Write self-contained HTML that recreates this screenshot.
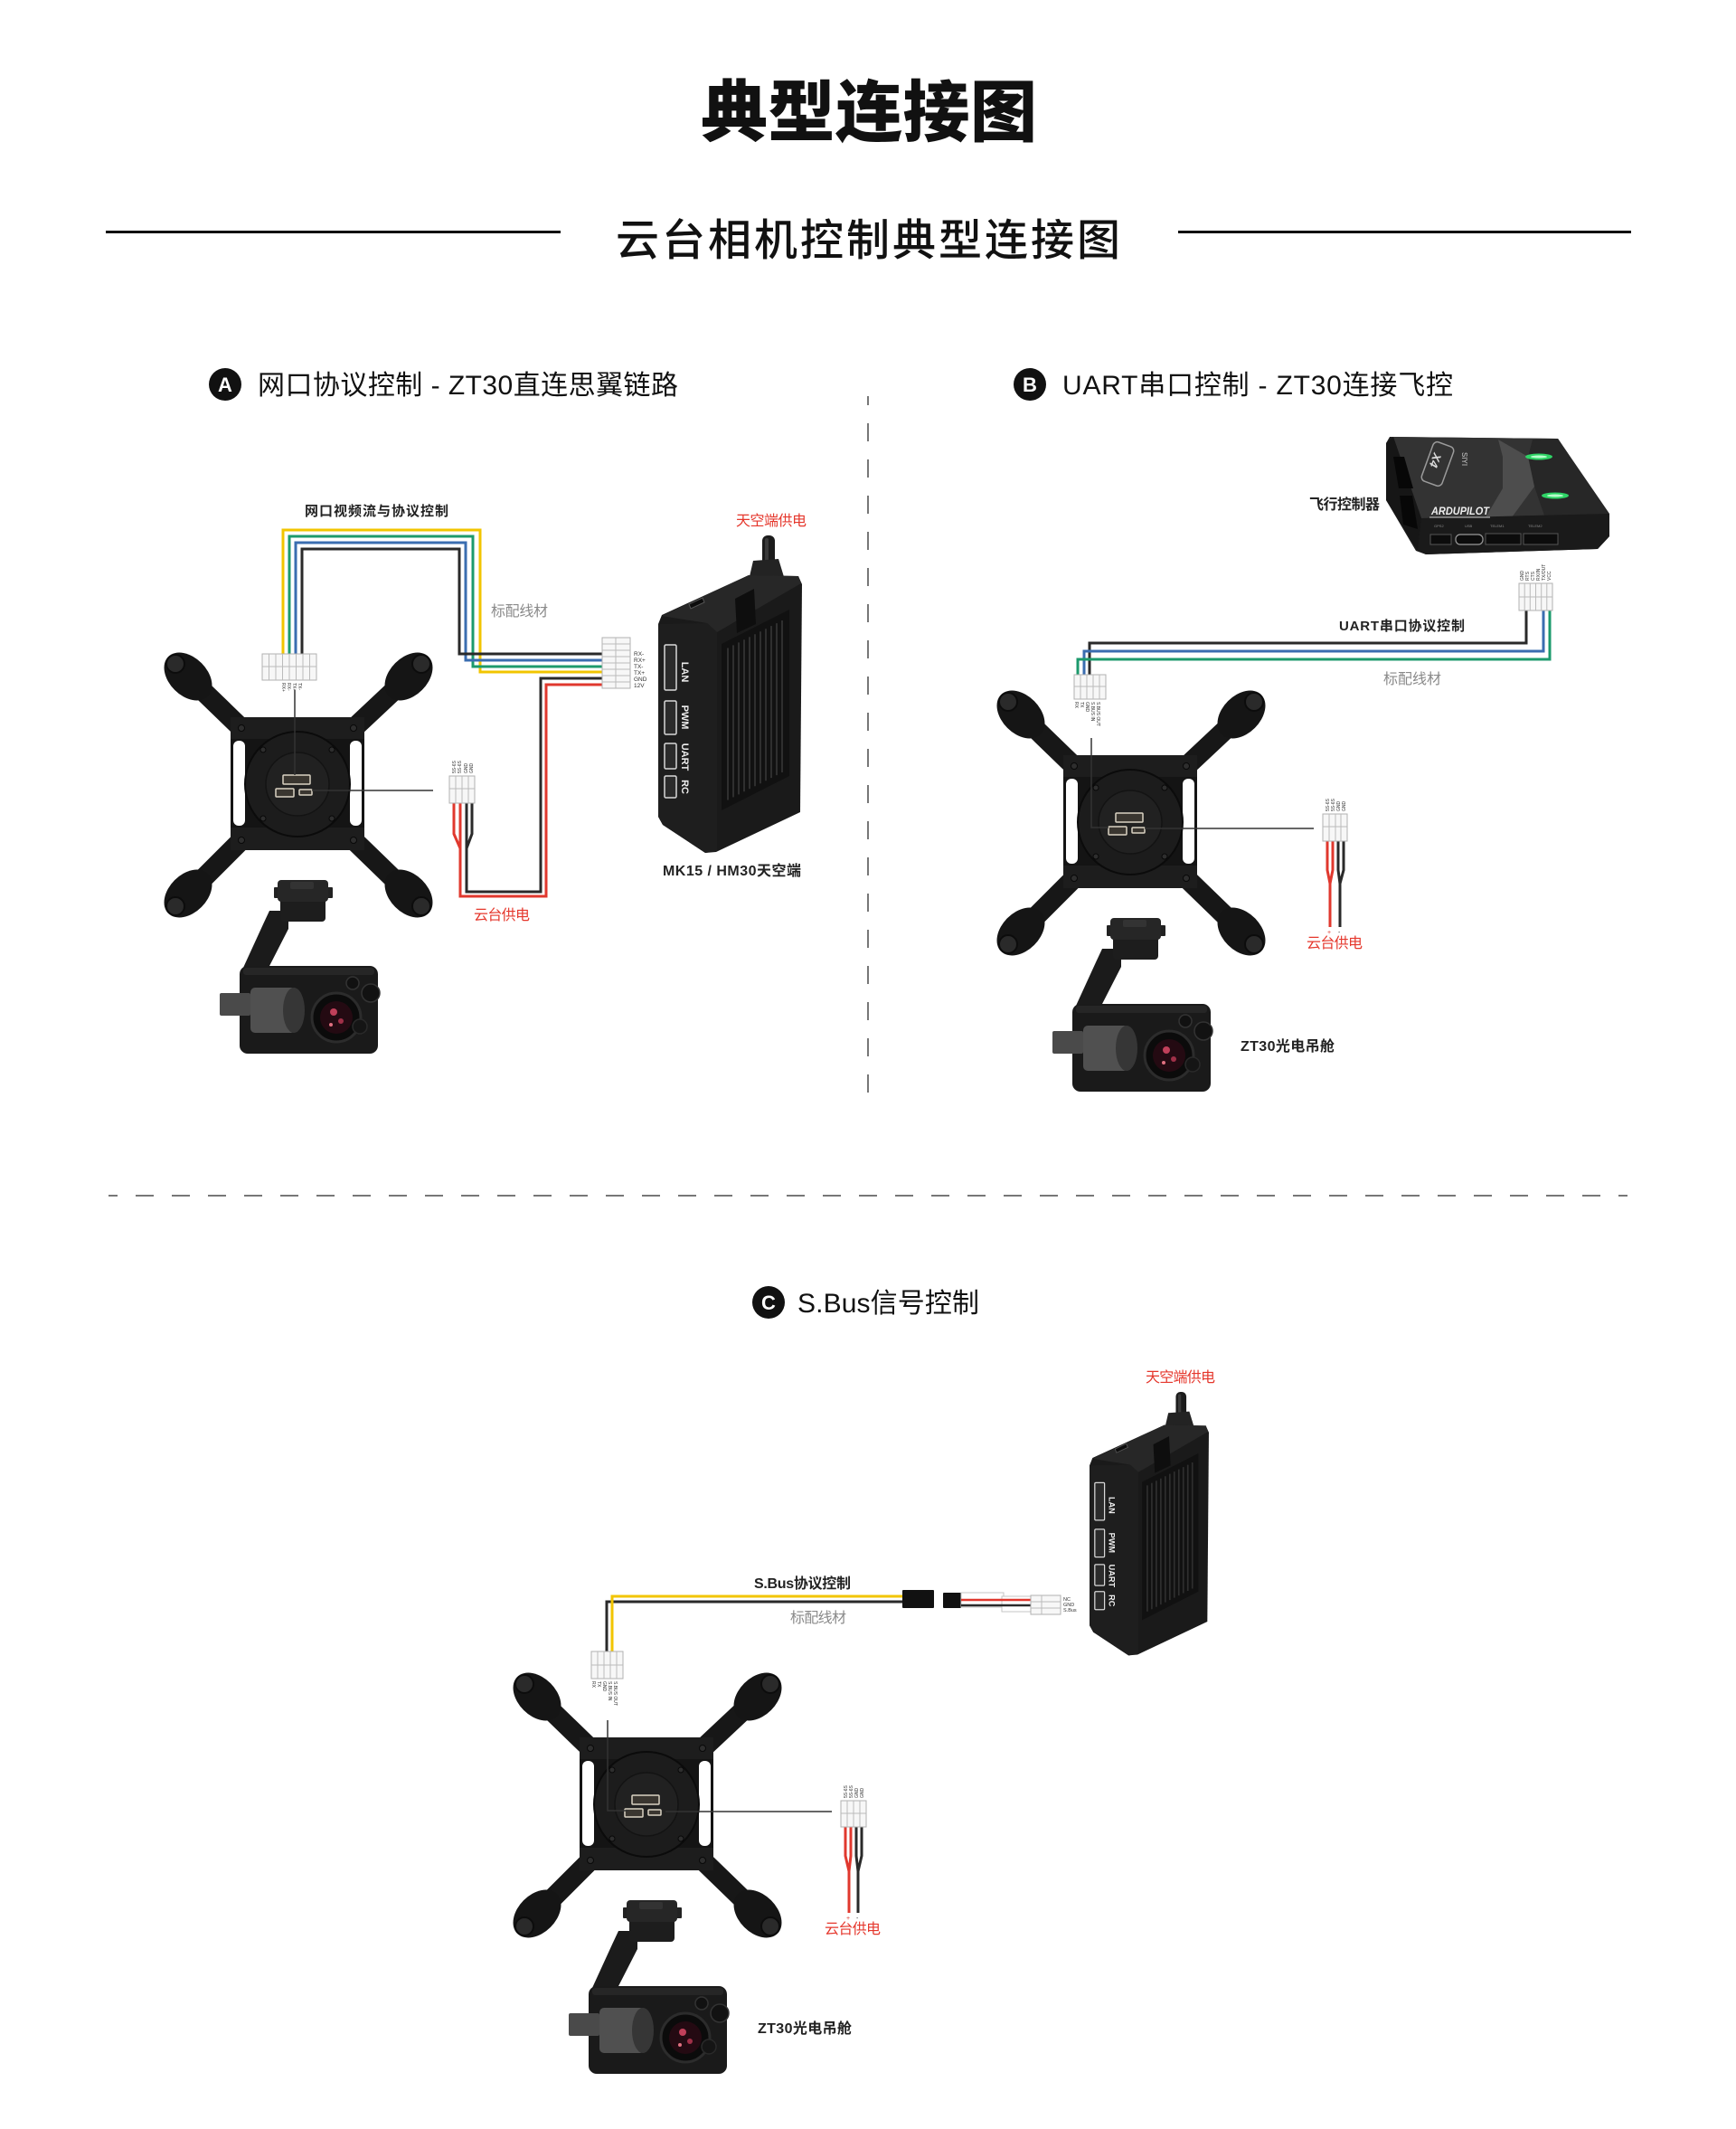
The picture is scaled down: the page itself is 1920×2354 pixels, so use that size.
<!DOCTYPE html>
<html><head><meta charset="utf-8">
<style>
html,body{margin:0;padding:0;background:#fff;}
svg{display:block;}
text{font-family:"Liberation Sans","Noto Sans CJK SC",sans-serif;}
</style></head><body>
<svg width="1920" height="2354" viewBox="0 0 1920 2354" xmlns="http://www.w3.org/2000/svg">
<defs>
<g id="plate">
 <g stroke="#171717" stroke-width="22" stroke-linecap="round">
  <line x1="-55" y1="-55" x2="-118" y2="-116"/>
  <line x1="55" y1="-55" x2="120" y2="-116"/>
  <line x1="-55" y1="55" x2="-118" y2="118"/>
  <line x1="55" y1="55" x2="120" y2="118"/>
 </g>
 <ellipse cx="-121" cy="-119" rx="31" ry="21" transform="rotate(45 -121 -119)" fill="#151515"/>
 <ellipse cx="123" cy="-119" rx="31" ry="21" transform="rotate(-45 123 -119)" fill="#151515"/>
 <ellipse cx="-121" cy="121" rx="31" ry="21" transform="rotate(-45 -121 121)" fill="#151515"/>
 <ellipse cx="123" cy="121" rx="31" ry="21" transform="rotate(45 123 121)" fill="#151515"/>
 <g fill="#2a2a2a" stroke="#0c0c0c" stroke-width="2">
  <circle cx="-135" cy="-133" r="10"/>
  <circle cx="137" cy="-133" r="10"/>
  <circle cx="-135" cy="135" r="10"/>
  <circle cx="137" cy="135" r="10"/>
 </g>
 <rect x="-74" y="-74" width="148" height="147" rx="3" fill="#141414"/>
 <rect x="-74" y="-74" width="148" height="24" fill="#1d1d1d"/>
 <rect x="-74" y="48" width="148" height="25" fill="#1d1d1d"/>
 <rect x="-71" y="-48" width="13" height="94" rx="6" fill="#fff"/>
 <rect x="58" y="-48" width="13" height="94" rx="6" fill="#fff"/>
 <circle cx="0" cy="0" r="58" fill="#1c1c1c" stroke="#0b0b0b" stroke-width="2"/>
 <circle cx="0" cy="0" r="35" fill="#212121" stroke="#131313" stroke-width="1.5"/>
 <g fill="#2e2e2e" stroke="#080808" stroke-width="1">
  <circle cx="-62" cy="-62" r="3.5"/><circle cx="62" cy="-62" r="3.5"/>
  <circle cx="-62" cy="62" r="3.5"/><circle cx="62" cy="62" r="3.5"/>
  <circle cx="-38" cy="-38" r="3"/><circle cx="38" cy="-38" r="3"/>
  <circle cx="-38" cy="38" r="3"/><circle cx="38" cy="38" r="3"/>
 </g>
 <g fill="#3a3630" stroke="#d9d2c2" stroke-width="1.5">
  <rect x="-16" y="-10" width="30" height="10" rx="1"/>
  <rect x="-24" y="5" width="20" height="9" rx="1"/>
  <rect x="2" y="6" width="14" height="6" rx="1"/>
 </g>
 <!-- camera -->
 <polygon points="-31,140 -10,140 -10,160 -32,203 -60,203 -38,155" fill="#1b1b1b"/>
 <rect x="-19" y="124" width="50" height="28" rx="4" fill="#1d1d1d"/>
 <rect x="-26" y="114" width="7" height="12" rx="1" fill="#222"/>
 <rect x="32" y="114" width="7" height="12" rx="1" fill="#222"/>
 <rect x="-22" y="106" width="56" height="24" rx="4" fill="#262626"/>
 <rect x="-8" y="108" width="26" height="8" rx="2" fill="#333"/>
 <rect x="-64" y="201" width="153" height="97" rx="9" fill="#1a1a1a"/>
 <rect x="-60" y="203" width="145" height="8" rx="3" fill="#262626"/>
 <rect x="-86" y="231" width="34" height="25" rx="2" fill="#4a4a4a"/>
 <rect x="-52" y="225" width="50" height="50" rx="5" fill="#505050"/>
 <ellipse cx="-4" cy="250" rx="12" ry="25" fill="#363636"/>
 <circle cx="43" cy="258" r="27" fill="#0b0b0b" stroke="#2c2c2c" stroke-width="3"/>
 <circle cx="43" cy="258" r="18" fill="#240a12"/>
 <circle cx="40" cy="252" r="4" fill="#c0405a"/>
 <circle cx="48" cy="262" r="3" fill="#a03048"/>
 <circle cx="37" cy="266" r="2" fill="#e07080"/>
 <circle cx="61" cy="220" r="7" fill="#111" stroke="#333" stroke-width="1.5"/>
 <circle cx="81" cy="231" r="10" fill="#121212" stroke="#333" stroke-width="1.5"/>
 <circle cx="69" cy="268" r="8" fill="#151515" stroke="#2a2a2a" stroke-width="1.5"/>
</g>
</defs>

<!-- Titles -->
<text x="775" y="150" font-size="74" font-weight="900" fill="#111" textLength="372" lengthAdjust="spacing">典型连接图</text>
<rect x="117" y="255" width="503" height="3" fill="#111"/>
<rect x="1303" y="255" width="501" height="3" fill="#111"/>
<text x="681" y="282" font-size="48" font-weight="500" fill="#111" textLength="558" lengthAdjust="spacing">云台相机控制典型连接图</text>

<!-- Headings -->
<circle cx="249" cy="425" r="18" fill="#111"/>
<text x="249" y="433" font-size="22" font-weight="bold" fill="#fff" text-anchor="middle">A</text>
<text x="285" y="436" font-size="30" fill="#111" textLength="465" lengthAdjust="spacing">网口协议控制 - ZT30直连思翼链路</text>
<circle cx="1139" cy="425" r="18" fill="#111"/>
<text x="1139" y="433" font-size="22" font-weight="bold" fill="#fff" text-anchor="middle">B</text>
<text x="1175" y="436" font-size="30" fill="#111" textLength="432" lengthAdjust="spacing">UART串口控制 - ZT30连接飞控</text>
<circle cx="850" cy="1440" r="18" fill="#111"/>
<text x="850" y="1448" font-size="22" font-weight="bold" fill="#fff" text-anchor="middle">C</text>
<text x="882" y="1451" font-size="30" fill="#111" textLength="201" lengthAdjust="spacing">S.Bus信号控制</text>

<!-- Dashed separators -->
<line x1="960" y1="438" x2="960" y2="448" stroke="#777" stroke-width="2"/>
<line x1="960" y1="468" x2="960" y2="1214" stroke="#777" stroke-width="2" stroke-dasharray="20 20"/>
<line x1="120" y1="1322" x2="1800" y2="1322" stroke="#777" stroke-width="2" stroke-dasharray="20 20" stroke-dashoffset="10"/>

<!-- ================= SECTION A ================= -->
<use href="#plate" transform="translate(329,867)"/>
<!-- MK15 box A -->
<g>
<rect x="843" y="592" width="14" height="36" rx="6" fill="#1c1c1c"/>
<rect x="846" y="595" width="4" height="30" rx="2" fill="#3a3a3a"/>
<polygon points="833,620 861,618 868,641 827,646" fill="#232323"/>
<polygon points="728,690 732,680 828,636 883,637 887,646 885,898 792,942 780,943 733,912 728,903" fill="#1a1a1a"/>
<polygon points="732,681 828,636 883,637 886,645 793,699 782,689" fill="#272727"/>
<polygon points="728,690 782,689 793,699 793,941 780,943 733,912 728,903" fill="#1e1e1e"/>
<polygon points="813,662 834,651 836,690 815,700" fill="#0e0e0e"/>
<polygon points="762,668 777,661 779,666 764,673" fill="#0c0c0c" stroke="#555" stroke-width="1"/>
<polygon points="798,712 873,674 873,858 798,896" fill="#111"/>
<g stroke="#2f2f2f" stroke-width="2">
<line x1="805" y1="716.5" x2="805" y2="884.5"/><line x1="811" y1="713.4" x2="811" y2="881.4"/>
<line x1="817" y1="710.4" x2="817" y2="878.4"/><line x1="823" y1="707.3" x2="823" y2="875.3"/>
<line x1="829" y1="704.3" x2="829" y2="872.3"/><line x1="835" y1="701.2" x2="835" y2="869.2"/>
<line x1="841" y1="698.2" x2="841" y2="866.2"/><line x1="847" y1="695.2" x2="847" y2="863.2"/>
<line x1="853" y1="692.1" x2="853" y2="860.1"/><line x1="859" y1="689.1" x2="859" y2="857.1"/>
<line x1="865" y1="686" x2="865" y2="854"/>
</g>
<g fill="#2b2b2b" stroke="#d8d8d8" stroke-width="1.5">
<rect x="735" y="713" width="13" height="50" rx="1.5"/>
<rect x="735" y="775" width="13" height="37" rx="1.5"/>
<rect x="735" y="822" width="13" height="28" rx="1.5"/>
<rect x="735" y="858" width="13" height="24" rx="1.5"/>
</g>
<g font-size="11" font-weight="bold" fill="#eee" text-anchor="middle">
<text transform="translate(754,743) rotate(90)">LAN</text>
<text transform="translate(754,793) rotate(90)">PWM</text>
<text transform="translate(754,837) rotate(90)">UART</text>
<text transform="translate(754,870) rotate(90)">RC</text>
</g>
</g>

<!-- wires A -->
<g fill="none" stroke-width="3" stroke-linejoin="miter">
<polyline points="313,723 313,586 531,586 531,743 667,743" stroke="#f2c500"/>
<polyline points="320,723 320,593 523,593 523,737 667,737" stroke="#1c9a6c"/>
<polyline points="327,723 327,600 515,600 515,730 667,730" stroke="#3a6db0"/>
<polyline points="334,723 334,607 508,607 508,723 667,723" stroke="#2a2a2a"/>
<polyline points="667,750 598,750 598,986 516,986 516,938" stroke="#2a2a2a"/>
<polyline points="667,757 604,757 604,991 509,991 509,938" stroke="#e0382e"/>
<polyline points="502,888 502,922 509,938" stroke="#e0382e"/>
<polyline points="509,888 509,938" stroke="#e0382e"/>
<polyline points="522,888 522,922 516,938" stroke="#2a2a2a"/>
<polyline points="516,888 516,938" stroke="#2a2a2a"/>
</g>
<line x1="326" y1="763" x2="326" y2="857" stroke="#333" stroke-width="1.5"/>
<line x1="345" y1="874" x2="479" y2="874" stroke="#333" stroke-width="1.5"/>

<!-- connectors A -->
<rect x="290" y="723" width="60" height="29" fill="#f7f7f7" stroke="#b0b0b0" stroke-width="1"/>
<path d="M297.5 723v29M305 723v29M312.5 723v29M320 723v29M327.5 723v29M335 723v29M342.5 723v29M290 737h60" stroke="#bbb" stroke-width="1" fill="none"/>
<g font-size="5" fill="#333">
<text transform="translate(312,755) rotate(90)">RX+</text>
<text transform="translate(318,755) rotate(90)">RX-</text>
<text transform="translate(324,755) rotate(90)">TX+</text>
<text transform="translate(330,755) rotate(90)">TX-</text>
</g>
<rect x="666" y="705" width="31" height="56" fill="#f7f7f7" stroke="#b0b0b0" stroke-width="1"/>
<path d="M666 712h31M666 719h31M666 726h31M666 733h31M666 740h31M666 747h31M666 754h31M681 705v56" stroke="#bbb" stroke-width="1" fill="none"/>
<g font-size="6.5" fill="#333">
<text x="701" y="725">RX-</text>
<text x="701" y="732">RX+</text>
<text x="701" y="739">TX-</text>
<text x="701" y="746">TX+</text>
<text x="701" y="753">GND</text>
<text x="701" y="760">12V</text>
</g>
<rect x="497" y="858" width="28" height="30" fill="#f7f7f7" stroke="#b0b0b0" stroke-width="1"/>
<path d="M504 858v30M511 858v30M518 858v30M497 872h28" stroke="#bbb" stroke-width="1" fill="none"/>
<g font-size="5" fill="#333">
<text transform="translate(504,855) rotate(-90)">5S-6S</text>
<text transform="translate(510,855) rotate(-90)">5S-6S</text>
<text transform="translate(517,855) rotate(-90)">GND</text>
<text transform="translate(523,855) rotate(-90)">GND</text>
</g>

<!-- labels A -->
<text x="337" y="570" font-size="15" font-weight="bold" fill="#222" textLength="159" lengthAdjust="spacing">网口视频流与协议控制</text>
<text x="543" y="681" font-size="16" fill="#8a8a8a" textLength="63" lengthAdjust="spacing">标配线材</text>
<text x="814" y="581" font-size="16" fill="#e5372c" textLength="78" lengthAdjust="spacing">天空端供电</text>
<text x="524" y="1017" font-size="16" fill="#e5372c" textLength="62" lengthAdjust="spacing">云台供电</text>
<text x="733" y="968" font-size="16" font-weight="bold" fill="#222" textLength="153" lengthAdjust="spacing">MK15 / HM30天空端</text>

<!-- ================= SECTION B ================= -->
<use href="#plate" transform="translate(1250,909)"/>
<!-- flight controller -->
<g>
<polygon points="1537,483 1723,485 1780,568 1780,593 1767,607 1577,613 1566,609 1533,553 1533,490" fill="#1e1e1e"/>
<polygon points="1541,483 1723,485 1779,568 1572,573" fill="#333"/>
<polygon points="1695,486 1723,485 1779,568 1708,570 1697,538 1690,505" fill="#272727"/>
<polygon points="1657,486 1690,505 1697,538 1672,572 1643,572 1662,540 1662,505" fill="#4d4d4d"/>
<polygon points="1533,490 1541,483 1572,573 1568,609 1533,553" fill="#161616"/>
<polygon points="1541,505 1553,505 1563,540 1547,540" fill="#070707"/>
<polygon points="1548,548 1562,548 1568,585 1552,580" fill="#070707"/>
<polygon points="1572,573 1779,568 1780,593 1767,607 1577,613 1568,609" fill="#1a1a1a"/>
<rect x="1582" y="591" width="23" height="11" fill="#0c0c0c" stroke="#555" stroke-width="1"/>
<rect x="1610" y="591" width="30" height="11" rx="5" fill="#0c0c0c" stroke="#999" stroke-width="1.2"/>
<rect x="1643" y="590" width="39" height="12" fill="#0c0c0c" stroke="#555" stroke-width="1"/>
<rect x="1685" y="590" width="38" height="12" fill="#0c0c0c" stroke="#555" stroke-width="1"/>
<g font-size="4" fill="#888">
<text x="1586" y="583">GPS2</text><text x="1620" y="583">USB</text>
<text x="1648" y="583">TELEM1</text><text x="1690" y="583">TELEM2</text>
</g>
<ellipse cx="1702" cy="505" rx="15" ry="3.5" fill="#2fd466"/>
<ellipse cx="1720" cy="548" rx="15" ry="3.5" fill="#2fd466"/>
<ellipse cx="1702" cy="505" rx="9" ry="1.5" fill="#b8ffcc"/>
<ellipse cx="1720" cy="548" rx="9" ry="1.5" fill="#b8ffcc"/>
<rect x="1578" y="490" width="24" height="46" rx="5" fill="none" stroke="#9a9a9a" stroke-width="1.5" transform="rotate(20 1590 513)"/>
<text transform="translate(1586,500) rotate(110)" font-size="13" font-weight="bold" font-style="italic" fill="#ddd">X4</text>
<text transform="translate(1617,500) rotate(90)" font-size="8" fill="#ccc">SIYI</text>
<text x="1583" y="569" font-size="12" font-weight="bold" font-style="italic" fill="#eee" textLength="64" lengthAdjust="spacingAndGlyphs">ARDUPILOT</text>
<line x1="1581" y1="572" x2="1648" y2="572" stroke="#ccc" stroke-width="1"/>
</g>

<!-- wires B -->
<g fill="none" stroke-width="3">
<polyline points="1688,675 1688,711 1205,711 1205,746" stroke="#2a2a2a"/>
<polyline points="1707,675 1707,720 1199,720 1199,746" stroke="#3a6db0"/>
<polyline points="1714,675 1714,729 1192,729 1192,746" stroke="#1c9a6c"/>
<polyline points="1468,930 1468,962 1471,977 1471,1025" stroke="#e0382e"/>
<polyline points="1474,930 1474,962 1471,977" stroke="#e0382e"/>
<polyline points="1480,930 1480,962 1482,977 1482,1025" stroke="#2a2a2a"/>
<polyline points="1486,930 1486,962 1482,977" stroke="#2a2a2a"/>
</g>
<polyline points="1207,816 1207,915 1226,915" fill="none" stroke="#333" stroke-width="1.5"/>
<line x1="1266" y1="916" x2="1453" y2="916" stroke="#333" stroke-width="1.5"/>

<!-- connectors B -->
<rect x="1680" y="645" width="37" height="30" fill="#f7f7f7" stroke="#b0b0b0" stroke-width="1"/>
<path d="M1686.2 645v30M1692.3 645v30M1698.5 645v30M1704.7 645v30M1710.8 645v30M1680 660h37" stroke="#bbb" stroke-width="1" fill="none"/>
<g font-size="5" fill="#333">
<text transform="translate(1685,642) rotate(-90)">GND</text>
<text transform="translate(1691,642) rotate(-90)">RTS</text>
<text transform="translate(1697,642) rotate(-90)">CTS</text>
<text transform="translate(1703,642) rotate(-90)">RX/IN</text>
<text transform="translate(1709,642) rotate(-90)">TX/OUT</text>
<text transform="translate(1715,642) rotate(-90)">VCC</text>
</g>
<rect x="1188" y="746" width="35" height="27" fill="#f7f7f7" stroke="#b0b0b0" stroke-width="1"/>
<path d="M1195 746v27M1202 746v27M1209 746v27M1216 746v27M1188 759h35" stroke="#bbb" stroke-width="1" fill="none"/>
<g font-size="5" fill="#333">
<text transform="translate(1189,776) rotate(90)">RX</text>
<text transform="translate(1195,776) rotate(90)">TX</text>
<text transform="translate(1201,776) rotate(90)">GND</text>
<text transform="translate(1207,776) rotate(90)">S.BUS IN</text>
<text transform="translate(1213,776) rotate(90)">S.BUS OUT</text>
</g>
<rect x="1463" y="900" width="27" height="30" fill="#f7f7f7" stroke="#b0b0b0" stroke-width="1"/>
<path d="M1470 900v30M1477 900v30M1483 900v30M1463 914h27" stroke="#bbb" stroke-width="1" fill="none"/>
<g font-size="5" fill="#333">
<text transform="translate(1470,897) rotate(-90)">5S-6S</text>
<text transform="translate(1476,897) rotate(-90)">5S-6S</text>
<text transform="translate(1482,897) rotate(-90)">GND</text>
<text transform="translate(1488,897) rotate(-90)">GND</text>
</g>
<text x="1468" y="1033" font-size="7" fill="#e0382e">+</text>
<text x="1480" y="1033" font-size="7" fill="#333">-</text>

<!-- labels B -->
<text x="1448" y="563" font-size="16" font-weight="bold" fill="#222" textLength="78" lengthAdjust="spacing">飞行控制器</text>
<text x="1481" y="697" font-size="15" font-weight="bold" fill="#222" textLength="139" lengthAdjust="spacing">UART串口协议控制</text>
<text x="1530" y="756" font-size="16" fill="#8a8a8a" textLength="64" lengthAdjust="spacing">标配线材</text>
<text x="1445" y="1048" font-size="16" fill="#e5372c" textLength="62" lengthAdjust="spacing">云台供电</text>
<text x="1372" y="1162" font-size="16" font-weight="bold" fill="#222" textLength="104" lengthAdjust="spacing">ZT30光电吊舱</text>

<!-- ================= SECTION C ================= -->
<use href="#plate" transform="translate(715,1995)"/>
<!-- MK15 box C -->
<g transform="translate(1205,1539) scale(0.83) translate(-728,-592)">
<rect x="843" y="592" width="14" height="36" rx="6" fill="#1c1c1c"/>
<rect x="846" y="595" width="4" height="30" rx="2" fill="#3a3a3a"/>
<polygon points="833,620 861,618 868,641 827,646" fill="#232323"/>
<polygon points="728,690 732,680 828,636 883,637 887,646 885,898 792,942 780,943 733,912 728,903" fill="#1a1a1a"/>
<polygon points="732,681 828,636 883,637 886,645 793,699 782,689" fill="#272727"/>
<polygon points="728,690 782,689 793,699 793,941 780,943 733,912 728,903" fill="#1e1e1e"/>
<polygon points="813,662 834,651 836,690 815,700" fill="#0e0e0e"/>
<polygon points="762,668 777,661 779,666 764,673" fill="#0c0c0c" stroke="#555" stroke-width="1"/>
<polygon points="798,712 873,674 873,858 798,896" fill="#111"/>
<g stroke="#2f2f2f" stroke-width="2">
<line x1="805" y1="716.5" x2="805" y2="884.5"/><line x1="811" y1="713.4" x2="811" y2="881.4"/>
<line x1="817" y1="710.4" x2="817" y2="878.4"/><line x1="823" y1="707.3" x2="823" y2="875.3"/>
<line x1="829" y1="704.3" x2="829" y2="872.3"/><line x1="835" y1="701.2" x2="835" y2="869.2"/>
<line x1="841" y1="698.2" x2="841" y2="866.2"/><line x1="847" y1="695.2" x2="847" y2="863.2"/>
<line x1="853" y1="692.1" x2="853" y2="860.1"/><line x1="859" y1="689.1" x2="859" y2="857.1"/>
<line x1="865" y1="686" x2="865" y2="854"/>
</g>
<g fill="#2b2b2b" stroke="#d8d8d8" stroke-width="1.5">
<rect x="735" y="713" width="13" height="50" rx="1.5"/>
<rect x="735" y="775" width="13" height="37" rx="1.5"/>
<rect x="735" y="822" width="13" height="28" rx="1.5"/>
<rect x="735" y="858" width="13" height="24" rx="1.5"/>
</g>
<g font-size="11" font-weight="bold" fill="#eee" text-anchor="middle">
<text transform="translate(754,743) rotate(90)">LAN</text>
<text transform="translate(754,793) rotate(90)">PWM</text>
<text transform="translate(754,837) rotate(90)">UART</text>
<text transform="translate(754,870) rotate(90)">RC</text>
</g>
</g>

<!-- wires C -->
<g fill="none" stroke-width="3">
<polyline points="999,1771 671,1771 671,1826" stroke="#2a2a2a"/>
<polyline points="999,1765 677,1765 677,1826" stroke="#f2c500"/>
<polyline points="935,2020 935,2052 939,2069 939,2115" stroke="#e0382e"/>
<polyline points="941,2020 941,2052 939,2069" stroke="#e0382e"/>
<polyline points="947,2020 947,2052 949,2069 949,2115" stroke="#2a2a2a"/>
<polyline points="953,2020 953,2052 949,2069" stroke="#2a2a2a"/>
</g>
<polyline points="672,1902 672,2002 695,2002" fill="none" stroke="#333" stroke-width="1.5"/>
<line x1="736" y1="2003" x2="920" y2="2003" stroke="#333" stroke-width="1.5"/>
<!-- servo plugs -->
<rect x="998" y="1758" width="35" height="20" rx="1" fill="#111"/>
<rect x="1043" y="1761" width="20" height="17" rx="1" fill="#111"/>
<rect x="1063" y="1761" width="47" height="16" fill="#fff" stroke="#c4c4c4" stroke-width="1"/>
<rect x="1108" y="1765" width="34" height="17" fill="#fff" stroke="#c4c4c4" stroke-width="1"/>
<line x1="1063" y1="1769" x2="1142" y2="1769" stroke="#e0382e" stroke-width="2.5"/>
<line x1="1063" y1="1775" x2="1142" y2="1775" stroke="#2a2a2a" stroke-width="2.5"/>
<rect x="1140" y="1764" width="33" height="21" fill="#f7f7f7" stroke="#b0b0b0" stroke-width="1"/>
<path d="M1140 1771h33M1140 1778h33M1152 1764v21" stroke="#bbb" stroke-width="1" fill="none"/>
<g font-size="5.5" fill="#333">
<text x="1176" y="1770">NC</text>
<text x="1176" y="1776">GND</text>
<text x="1176" y="1782">S.Bus</text>
</g>
<!-- connectors C -->
<rect x="654" y="1826" width="35" height="30" fill="#f7f7f7" stroke="#b0b0b0" stroke-width="1"/>
<path d="M661 1826v30M668 1826v30M675 1826v30M682 1826v30M654 1841h35" stroke="#bbb" stroke-width="1" fill="none"/>
<g font-size="5" fill="#333">
<text transform="translate(655,1859) rotate(90)">RX</text>
<text transform="translate(661,1859) rotate(90)">TX</text>
<text transform="translate(667,1859) rotate(90)">GND</text>
<text transform="translate(673,1859) rotate(90)">S.BUS IN</text>
<text transform="translate(679,1859) rotate(90)">S.BUS OUT</text>
</g>
<rect x="930" y="1991" width="28" height="29" fill="#f7f7f7" stroke="#b0b0b0" stroke-width="1"/>
<path d="M937 1991v29M944 1991v29M951 1991v29M930 2005h28" stroke="#bbb" stroke-width="1" fill="none"/>
<g font-size="5" fill="#333">
<text transform="translate(937,1988) rotate(-90)">5S-6S</text>
<text transform="translate(943,1988) rotate(-90)">5S-6S</text>
<text transform="translate(949,1988) rotate(-90)">GND</text>
<text transform="translate(955,1988) rotate(-90)">GND</text>
</g>
<text x="936" y="2123" font-size="7" fill="#e0382e">+</text>
<text x="947" y="2123" font-size="7" fill="#333">-</text>

<!-- labels C -->
<text x="1267" y="1528" font-size="16" fill="#e5372c" textLength="77" lengthAdjust="spacing">天空端供电</text>
<text x="834" y="1756" font-size="16" font-weight="bold" fill="#222" textLength="107" lengthAdjust="spacing">S.Bus协议控制</text>
<text x="874" y="1794" font-size="16" fill="#8a8a8a" textLength="62" lengthAdjust="spacing">标配线材</text>
<text x="912" y="2138" font-size="16" fill="#e5372c" textLength="62" lengthAdjust="spacing">云台供电</text>
<text x="838" y="2248" font-size="16" font-weight="bold" fill="#222" textLength="104" lengthAdjust="spacing">ZT30光电吊舱</text>
</svg>
</body></html>
